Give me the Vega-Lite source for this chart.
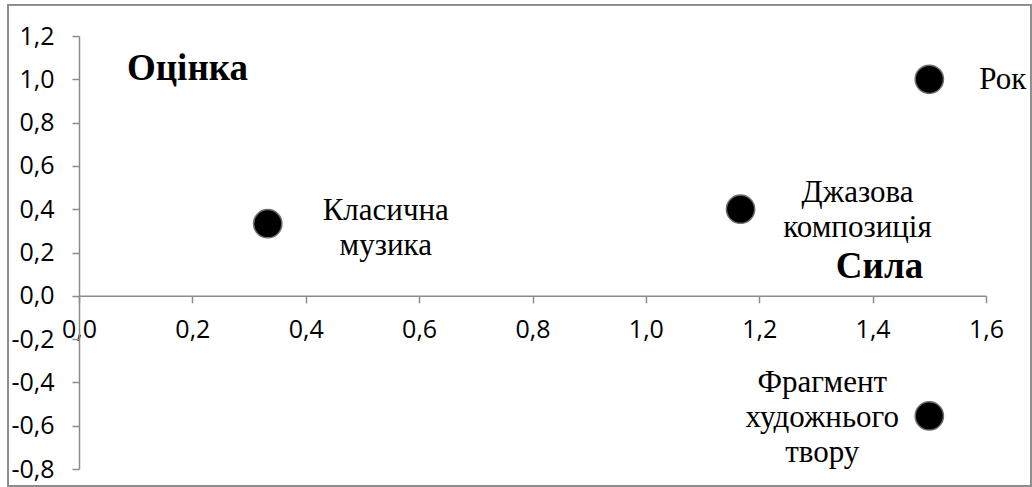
{
  "$schema": "https://vega.github.io/schema/vega-lite/v6.json",
  "autosize": "none",
  "width": 907,
  "height": 433,
  "padding": {"left": 79, "top": 36, "right": 46, "bottom": 18},
  "background": "white",
  "config": {
    "view": {"stroke": null},
    "axis": {
      "grid": false,
      "domainColor": "#8c8c8c",
      "domainWidth": 1.5,
      "tickColor": "#8c8c8c",
      "tickWidth": 1.5,
      "tickSize": 7,
      "labelColor": "#000000",
      "labelFlush": false,
      "labelOverlap": false,
      "titleFont": "Liberation Serif",
      "titleFontSize": 37,
      "titleFontWeight": "bold",
      "titleColor": "#000000",
      "titleAngle": 0,
      "titleAlign": "center",
      "titleBaseline": "middle"
    }
  },
  "data": {
    "values": [
      {"name": "Класична музика", "label": "Класична\nмузика", "sila": 0.333, "otsinka": 0.333},
      {"name": "Джазова композиція", "label": "Джазова\nкомпозиція", "sila": 1.167, "otsinka": 0.4},
      {"name": "Рок", "label": "Рок", "sila": 1.5, "otsinka": 1.0},
      {"name": "Фрагмент художнього твору", "label": "Фрагмент\nхудожнього\nтвору", "sila": 1.5, "otsinka": -0.555}
    ]
  },
  "encoding": {
    "x": {
      "field": "sila",
      "type": "quantitative",
      "scale": {"domain": [0, 1.6], "nice": false, "zero": false},
      "axis": {
        "title": "Сила",
        "values": [0, 0.2, 0.4, 0.6, 0.8, 1.0, 1.2, 1.4, 1.6],
        "labelExpr": "replace(replace(format(datum.value, '.1f'), '.', ','), '\u2212', '-')",
        "labelFont": "Open Sans",
        "labelFontSize": 25,
        "offset": {"expr": "scale('y', 0) - height"},
        "labelPadding": 15,
        "titleX": 800,
        "titleY": -29
      }
    },
    "y": {
      "field": "otsinka",
      "type": "quantitative",
      "scale": {"domain": [-0.8, 1.2], "nice": false, "zero": false},
      "axis": {
        "title": "Оцінка",
        "values": [-0.8, -0.6, -0.4, -0.2, 0, 0.2, 0.4, 0.6, 0.8, 1.0, 1.2],
        "labelExpr": "replace(replace(format(datum.value, '.1f'), '.', ','), '\u2212', '-')",
        "labelFont": "Open Sans",
        "labelFontSize": 25,
        "labelPadding": 18,
        "titleX": 108,
        "titleY": 32
      }
    }
  },
  "layer": [
    {
      "mark": {"type": "rect", "fill": null, "fillOpacity": 0, "stroke": "#8c8c8c", "strokeWidth": 1.5, "clip": false},
      "encoding": {
        "x": {"datum": -0.125, "type": "quantitative"},
        "x2": {"datum": 1.679},
        "y": {"datum": 1.344, "type": "quantitative"},
        "y2": {"datum": -0.878}
      }
    },
    {
      "mark": {"type": "circle", "size": 800, "fill": "#000000", "stroke": "#6e6e6e", "strokeWidth": 1.5, "opacity": 1}
    },
    {
      "transform": [{"filter": "datum.name === 'Класична музика'"}],
      "mark": {"type": "text", "font": "Liberation Serif", "fontSize": 31, "lineBreak": "\n", "lineHeight": 35, "align": "center", "baseline": "middle", "dx": 118, "dy": -13, "color": "#000000"},
      "encoding": {"text": {"field": "label"}}
    },
    {
      "transform": [{"filter": "datum.name === 'Джазова композиція'"}],
      "mark": {"type": "text", "font": "Liberation Serif", "fontSize": 31, "lineBreak": "\n", "lineHeight": 35, "align": "center", "baseline": "middle", "dx": 117, "dy": -16, "color": "#000000"},
      "encoding": {"text": {"field": "label"}}
    },
    {
      "transform": [{"filter": "datum.name === 'Рок'"}],
      "mark": {"type": "text", "font": "Liberation Serif", "fontSize": 31, "lineBreak": "\n", "lineHeight": 35, "align": "left", "baseline": "middle", "dx": 50, "dy": 1, "color": "#000000"},
      "encoding": {"text": {"field": "label"}}
    },
    {
      "transform": [{"filter": "datum.name === 'Фрагмент художнього твору'"}],
      "mark": {"type": "text", "font": "Liberation Serif", "fontSize": 31, "lineBreak": "\n", "lineHeight": 35, "align": "center", "baseline": "middle", "dx": -107, "dy": -33, "color": "#000000"},
      "encoding": {"text": {"field": "label"}}
    }
  ]
}
